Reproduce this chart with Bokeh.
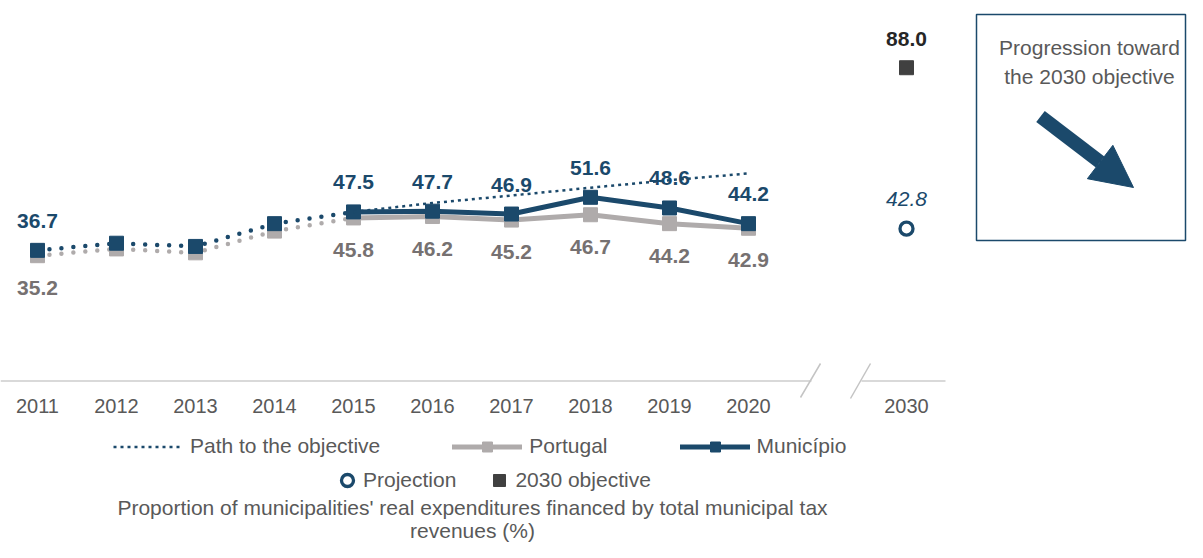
from bokeh.plotting import figure
from bokeh.models import Range1d, Legend, LegendItem, Arrow, NormalHead, FixedTicker
from bokeh.core.properties import value
from bokeh.embed import file_html
from bokeh.resources import INLINE

# ---------------- data ----------------
years = ["2011", "2012", "2013", "2014", "2015", "2016", "2017", "2018", "2019", "2020"]
municipio = [36.7, 38.7, 37.8, 44.2, 47.5, 47.7, 46.9, 51.6, 48.6, 44.2]
portugal = [35.2, 37.1, 36.0, 42.1, 45.8, 46.2, 45.2, 46.7, 44.2, 42.9]
path_years = ["2015", "2016", "2017", "2018", "2019", "2020"]
path_to_objective = [47.5, 50.0, 52.1, 54.3, 56.4, 58.3]
target_year = "2030"
objective_2030 = [88.0]
projection_2030 = [42.8]
labeled_years = ["2011", "2015", "2016", "2017", "2018", "2019", "2020"]
solid_from = "2015"
tick_years = years + [target_year]

# ---------------- style ----------------
BLUE = "#1b496b"
GRAY_LINE = "#afabab"
GRAY_LABEL = "#767171"
TEXT = "#595959"
OBJ = "#404040"
FONT = "Liberation Sans"

W, H = 1187, 542
# helpers converting figure pixels to data units
X0_PX, X_STEP = 37.0, 79.0
Y0_PX, Y_STEP = 380.5, 3.56


def rx(px):
    return (px - X0_PX) / X_STEP


def ry(py):
    return (Y0_PX - py) / Y_STEP


slot = {y: i for i, y in enumerate(years)}
slot[target_year] = len(years) + 1  # one empty slot for the axis break

p = figure(width=W, height=H, output_backend="svg", toolbar_location=None,
           x_range=Range1d(rx(0), rx(W)), y_range=Range1d(ry(H), ry(0)),
           min_border=0, min_border_left=0, min_border_right=0,
           min_border_top=0, min_border_bottom=0)
p.outline_line_color = None
p.xgrid.visible = False
p.ygrid.visible = False
p.yaxis.visible = False
p.background_fill_color = "white"

ax = p.xaxis[0]
ax.fixed_location = 0
ax.ticker = FixedTicker(ticks=[slot[y] for y in tick_years])
ax.major_label_overrides = {slot[y]: y for y in tick_years}
ax.axis_line_color = None
ax.major_tick_line_color = None
ax.minor_tick_line_color = None
ax.major_tick_out = 0
ax.major_tick_in = 0
ax.major_label_standoff = 18
ax.major_label_text_font = FONT
ax.major_label_text_font_size = "20px"
ax.major_label_text_color = TEXT

# axis line with break
p.segment(x0=[rx(0), rx(861)], y0=[0, 0], x1=[rx(811), rx(945)], y1=[0, 0],
          line_color="#d9d9d9", line_width=2)
p.segment(x0=[rx(800), rx(850)], y0=[ry(397), ry(398)], x1=[rx(820), rx(870)], y1=[ry(363), ry(363)],
          line_color="#c4c4c4", line_width=1.5)

xs = [slot[y] for y in years]
k = years.index(solid_from)

# Portugal
p.line(xs[:k + 1], portugal[:k + 1], line_color=GRAY_LINE, line_width=4.5,
       line_dash="0 12", line_cap="round")
pt_line = p.line(xs[k:], portugal[k:], line_color=GRAY_LINE, line_width=5,
                 line_cap="round", line_join="round")
pt_sq = p.scatter(xs, portugal, marker="square", size=14, fill_color=GRAY_LINE, line_color=GRAY_LINE)

# Municipio
p.line(xs[:k + 1], municipio[:k + 1], line_color=BLUE, line_width=4.5,
       line_dash="0 12", line_cap="round")
mu_line = p.line(xs[k:], municipio[k:], line_color=BLUE, line_width=5,
                 line_cap="round", line_join="round")
mu_sq = p.scatter(xs, municipio, marker="square", size=14, fill_color=BLUE, line_color=BLUE)

# path to objective
path_r = p.line([slot[y] for y in path_years], path_to_objective, line_color=BLUE,
                line_width=2.5, line_dash="3 4")

# 2030 points
obj_r = p.scatter([slot[target_year]], objective_2030, marker="square", size=14,
                  fill_color=OBJ, line_color=OBJ)
proj_r = p.scatter([slot[target_year]], projection_2030, marker="circle", size=13,
                   fill_color="white", line_color=BLUE, line_width=3.3)

# data labels
lx = [slot[y] for y in labeled_years]
lm = [municipio[years.index(y)] for y in labeled_years]
lp = [portugal[years.index(y)] for y in labeled_years]
p.text(lx, lm, text=[f"{v:.1f}" for v in lm], y_offset=-29.5, text_align="center",
       text_baseline="middle", text_font=value(FONT), text_font_style="bold",
       text_font_size="21px", text_color=BLUE)
p.text(lx, lp, text=[f"{v:.1f}" for v in lp], y_offset=32, text_align="center",
       text_baseline="middle", text_font=value(FONT), text_font_style="bold",
       text_font_size="21px", text_color=GRAY_LABEL)
p.text([slot[target_year]], objective_2030, text=[f"{v:.1f}" for v in objective_2030],
       y_offset=-29, text_align="center", text_baseline="middle", text_font=value(FONT),
       text_font_style="bold", text_font_size="21px", text_color="#262626")
p.text([slot[target_year]], projection_2030, text=[f"{v:.1f}" for v in projection_2030],
       y_offset=-30, text_align="center", text_baseline="middle", text_font=value(FONT),
       text_font_style="italic", text_font_size="21px", text_color=BLUE)

# right-hand box
p.quad(left=[rx(976)], right=[rx(1185)], top=[ry(14)], bottom=[ry(240)],
       fill_color=None, line_color=BLUE, line_width=1.5)
p.text([rx(1089)], [ry(61.5)], text=["Progression toward\nthe 2030 objective"],
       text_align="center", text_baseline="middle", text_font=value(FONT),
       text_font_size="21px", text_color=TEXT, text_line_height=1.3)
p.add_layout(Arrow(x_start=rx(1040), y_start=ry(116), x_end=rx(1133), y_end=ry(187),
                   line_color=BLUE, line_width=14,
                   end=NormalHead(size=42, fill_color=BLUE, line_color=BLUE, line_width=1)))

# bottom caption
p.text([rx(472)], [ry(518.5)],
       text=["Proportion of municipalities' real expenditures financed by total municipal tax\nrevenues (%)"],
       text_align="center", text_baseline="middle", text_font=value(FONT),
       text_font_size="21px", text_color=TEXT, text_line_height=1.0)

# legends
common = dict(orientation="horizontal", padding=0, margin=0, border_line_color=None,
              background_fill_alpha=0, label_text_font=FONT, label_text_font_size="21px",
              label_text_color=TEXT)
leg1 = Legend(items=[LegendItem(label="Path to the objective", renderers=[path_r]),
                     LegendItem(label="Portugal", renderers=[pt_line, pt_sq]),
                     LegendItem(label="Município", renderers=[mu_line, mu_sq])],
              location=(113, 83.5), glyph_width=70, glyph_height=25, label_height=25,
              label_standoff=7, spacing=72, **common)
leg2 = Legend(items=[LegendItem(label="Projection", renderers=[proj_r]),
                     LegendItem(label="2030 objective", renderers=[obj_r])],
              location=(332, 47), glyph_width=30, glyph_height=30, label_height=30,
              label_standoff=1, spacing=28, **common)
p.add_layout(leg1)
p.add_layout(leg2)

open("out.html", "w").write(file_html(p, INLINE))
